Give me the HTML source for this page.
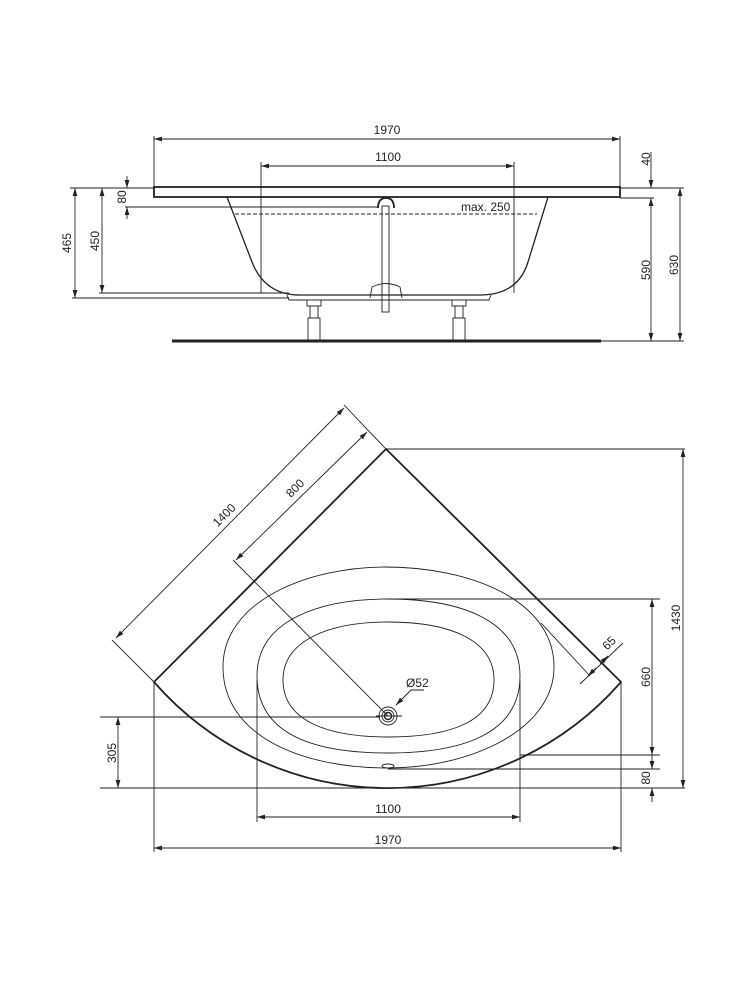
<!DOCTYPE html>
<html><head><meta charset="utf-8"><style>
html,body{margin:0;padding:0;background:#fff;}
svg{display:block;}
text{font-family:"Liberation Sans",sans-serif;font-size:12px;fill:#222;}
</style></head><body>
<svg width="750" height="982" viewBox="0 0 750 982" xmlns="http://www.w3.org/2000/svg">
<defs>
<marker id="a" viewBox="0 0 10 6" refX="10" refY="3" markerWidth="8" markerHeight="5" orient="auto-start-reverse" markerUnits="userSpaceOnUse"><path d="M0,0 L10,3 L0,6 z" fill="#222"/></marker>
</defs>
<g stroke="#222" stroke-width="0.9" fill="none">
<line x1="154" y1="136" x2="154" y2="188"/><line x1="620" y1="136" x2="620" y2="188"/>
<line x1="154" y1="139" x2="620" y2="139" marker-start="url(#a)" marker-end="url(#a)"/>
<line x1="261" y1="162" x2="261" y2="293"/><line x1="514" y1="162" x2="514" y2="293"/>
<line x1="261" y1="166" x2="514" y2="166" marker-start="url(#a)" marker-end="url(#a)"/>
<rect x="154" y="187" width="466" height="10" stroke-width="1.8"/>
<path d="M227,197 L252,262 Q265,295 300,295 L480,295 Q518,295 528,262 L548,197" stroke-width="1.3"/>
<path d="M287,295 L289,300 L489,300 L491,295" />
<line x1="235" y1="214" x2="537" y2="214" stroke-dasharray="4,2"/>
<path d="M378,208 Q378,198 386,198 Q394,198 394,208" stroke-width="1.8"/>
<rect x="382" y="206" width="7" height="106"/>
<path d="M370,298 L372,287 Q386,280 400,287 L402,298"/>
<g fill="#fff">
<rect x="307" y="300" width="14" height="6"/><rect x="310" y="306" width="8" height="12"/><rect x="308" y="318" width="12" height="22"/>
<rect x="452" y="300" width="14" height="6"/><rect x="455" y="306" width="8" height="12"/><rect x="453" y="318" width="12" height="22"/>
</g>
<line x1="172" y1="341" x2="601" y2="341" stroke-width="3"/>
<line x1="118" y1="188" x2="154" y2="188"/>
<line x1="125" y1="207" x2="378" y2="207"/>
<line x1="127" y1="176" x2="127" y2="188" marker-end="url(#a)"/>
<line x1="127" y1="219" x2="127" y2="207" marker-end="url(#a)"/>
<line x1="70" y1="188" x2="154" y2="188"/>
<line x1="75" y1="188" x2="75" y2="298" marker-start="url(#a)" marker-end="url(#a)"/>
<line x1="102" y1="188" x2="102" y2="293" marker-start="url(#a)" marker-end="url(#a)"/>
<line x1="99" y1="293" x2="289" y2="293"/>
<line x1="72" y1="298" x2="289" y2="298"/>
<line x1="620" y1="188" x2="684" y2="188"/>
<line x1="620" y1="198" x2="654" y2="198"/>
<line x1="601" y1="341" x2="684" y2="341"/>
<line x1="651" y1="152" x2="651" y2="188" marker-end="url(#a)"/>
<line x1="651" y1="198" x2="651" y2="341" marker-start="url(#a)" marker-end="url(#a)"/>
<line x1="680" y1="188" x2="680" y2="341" marker-start="url(#a)" marker-end="url(#a)"/>

<path d="M154,682 L386,449 L621,682 A310,310 0 0 1 154,682 Z" stroke-width="1.8"/>
<path d="M223,667 C223,600 310,567 385,567 C470,567 554,600 554,667 C554,730 470,768 388,768 C300,768 223,735 223,667 Z"/>
<path d="M257,676 C257,620 320,599 388,599 C460,599 520,620 520,676 C520,735 460,753 388,753 C315,753 257,735 257,676 Z"/>
<path d="M283,680 C283,640 330,622 388,622 C450,622 494,640 494,680 C494,722 450,737 388,737 C330,737 283,722 283,680 Z"/>
<ellipse cx="388" cy="766" rx="6" ry="2"/>
<circle cx="388" cy="716" r="9"/><circle cx="388" cy="716" r="6"/><circle cx="388" cy="716" r="3.5" stroke-width="1.5"/>
<line x1="376" y1="716" x2="402" y2="716"/>
<line x1="154" y1="682" x2="112" y2="640"/>
<line x1="386" y1="449" x2="344" y2="405"/>
<line x1="116" y1="638" x2="344" y2="408" marker-start="url(#a)" marker-end="url(#a)"/>
<line x1="388" y1="716" x2="233" y2="560"/>
<line x1="236" y1="560" x2="367" y2="432" marker-start="url(#a)" marker-end="url(#a)"/>
<line x1="541" y1="623" x2="590" y2="676"/>
<line x1="580" y1="684" x2="623" y2="643"/>
<line x1="596" y1="668" x2="588" y2="676" marker-end="url(#a)"/>
<line x1="600" y1="664" x2="608" y2="656" marker-end="url(#a)"/>
<polyline points="424,690 411,690 396,705" />
<line x1="402" y1="699" x2="396" y2="705" marker-end="url(#a)"/>
<line x1="386" y1="449" x2="685" y2="449"/>
<line x1="388" y1="599" x2="660" y2="599"/>
<line x1="520" y1="755" x2="660" y2="755"/>
<line x1="388" y1="769" x2="660" y2="769"/>
<line x1="100" y1="788" x2="685" y2="788"/>
<line x1="652" y1="599" x2="652" y2="755" marker-start="url(#a)" marker-end="url(#a)"/>
<line x1="652" y1="755" x2="652" y2="769" marker-end="url(#a)"/>
<line x1="652" y1="802" x2="652" y2="788" marker-end="url(#a)"/>
<line x1="683" y1="449" x2="683" y2="788" marker-start="url(#a)" marker-end="url(#a)"/>
<line x1="100" y1="717" x2="380" y2="717"/>
<line x1="118" y1="717" x2="118" y2="788" marker-start="url(#a)" marker-end="url(#a)"/>
<line x1="257" y1="680" x2="257" y2="822"/><line x1="520" y1="680" x2="520" y2="822"/>
<line x1="257" y1="817" x2="520" y2="817" marker-start="url(#a)" marker-end="url(#a)"/>
<line x1="154" y1="682" x2="154" y2="852"/><line x1="621" y1="682" x2="621" y2="852"/>
<line x1="154" y1="848" x2="621" y2="848" marker-start="url(#a)" marker-end="url(#a)"/>
</g>
<g>
<text x="387" y="134" text-anchor="middle">1970</text>
<text x="388" y="161" text-anchor="middle">1100</text>
<text x="461" y="211">max. 250</text>
<text transform="translate(126,197) rotate(-90)" text-anchor="middle">80</text>
<text transform="translate(71,243) rotate(-90)" text-anchor="middle">465</text>
<text transform="translate(99,241) rotate(-90)" text-anchor="middle">450</text>
<text transform="translate(650,159) rotate(-90)" text-anchor="middle">40</text>
<text transform="translate(650,270) rotate(-90)" text-anchor="middle">590</text>
<text transform="translate(678,265) rotate(-90)" text-anchor="middle">630</text>
<text transform="translate(227,518) rotate(-45)" text-anchor="middle">1400</text>
<text transform="translate(298,491) rotate(-45)" text-anchor="middle">800</text>
<text transform="translate(612,646) rotate(-45)" text-anchor="middle">65</text>
<text x="406" y="687">Ø52</text>
<text transform="translate(650,677) rotate(-90)" text-anchor="middle">660</text>
<text transform="translate(650,778) rotate(-90)" text-anchor="middle">80</text>
<text transform="translate(680,618) rotate(-90)" text-anchor="middle">1430</text>
<text transform="translate(116,753) rotate(-90)" text-anchor="middle">305</text>
<text x="388" y="813" text-anchor="middle">1100</text>
<text x="388" y="844" text-anchor="middle">1970</text>
</g>
</svg>
</body></html>
